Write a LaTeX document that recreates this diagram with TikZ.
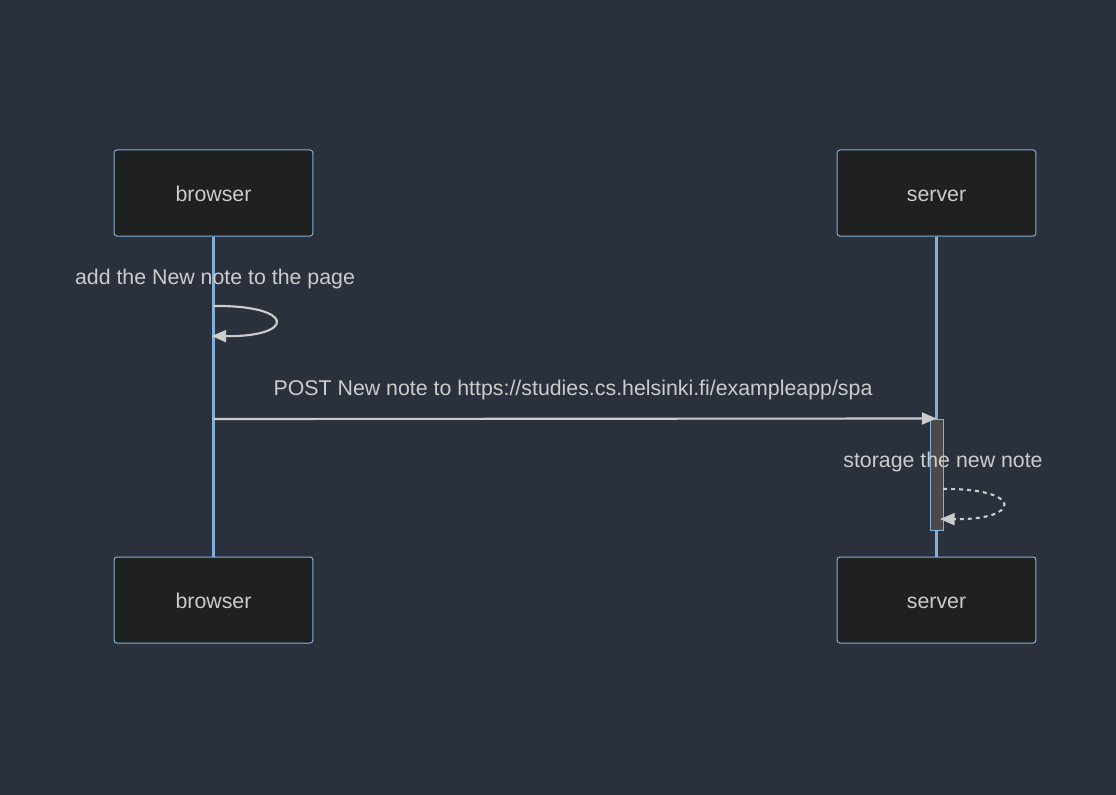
\documentclass[tikz,border=0pt]{standalone}
\usepackage{fontspec}
\setmainfont{Liberation Sans}
\usetikzlibrary{arrows.meta}
\definecolor{bgc}{HTML}{2A303C}
\definecolor{boxc}{HTML}{1F2020}
\definecolor{edgec}{HTML}{81B1DB}
\definecolor{txtc}{HTML}{CCCCCC}
\definecolor{actc}{HTML}{4A4A4A}
\begin{document}
\begin{tikzpicture}[x=0.75pt, y=-0.75pt, >={Triangle[length=11pt,width=9pt]},
    actor/.style={draw=edgec, fill=boxc, rounded corners=2pt, line width=0.75pt,
      minimum width=149pt, minimum height=64.5pt, text=txtc, text height=13pt, text depth=1pt,
      font=\fontsize{16}{19}\selectfont},
    life/.style={draw=edgec, line width=1.8pt},
    msg/.style={draw=txtc, line width=1.6pt},
    lbl/.style={text=txtc, yshift=-2.2pt, font=\fontsize{16}{19}\selectfont}]
          \fill[bgc] (0, 0) rectangle (1116, 795);
          \useasboundingbox (0, 0) rectangle (1116, 795);
          \node[actor] (browserTop) at (213.5, 193) {browser};
          \node[actor] (serverTop) at (936.5, 193) {server};
          \node[actor] (browserBot) at (213.5, 600) {browser};
          \node[actor] (serverBot) at (936.5, 600) {server};
          \draw[life] (browserTop.south) -- (browserBot.north);
          \draw[life] (serverTop.south) -- (serverBot.north);
          % self message on browser
          \node[lbl] (addLbl) at (215, 276) {add the New note to the page};
          \coordinate (loopA) at (213.5, 306);
          \coordinate (loopB) at (211.5, 336);
          \draw[msg, ->] (loopA) .. controls (296, 305) and (296, 337) .. (loopB);
          % post to server
          \node[draw=edgec, fill=actc, line width=0.75pt, minimum width=9.75pt, minimum height=83.25pt,
            inner sep=0pt] (act) at (936.5, 474.5) {};
          \node[lbl] (postLbl) at (573, 387) {POST New note to https://studies.cs.helsinki.fi/exampleapp/spa};
          \coordinate (postFrom) at (213.5, 419);
          \draw[msg, ->] (postFrom) -- (act.north);
          % self message on server
          \node[lbl] (storeLbl) at (943, 459) {storage the new note};
          \coordinate (storeA) at (943, 489);
          \coordinate (storeB) at (940, 519);
          \draw[msg, ->, dash pattern=on 3pt off 3pt] (storeA) .. controls (1023, 488) and (1023, 520) .. (storeB);
      \end{tikzpicture}
\end{document}
